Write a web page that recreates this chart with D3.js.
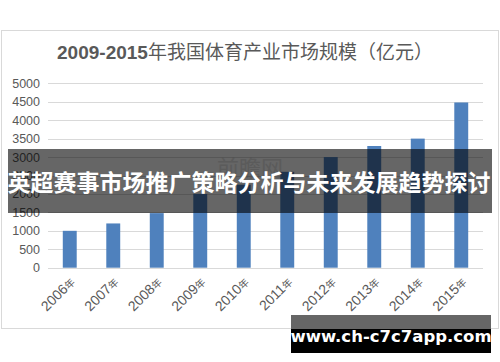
<!DOCTYPE html>
<html>
<head>
<meta charset="utf-8">
<script src="https://cdn.jsdelivr.net/npm/d3@7"></script>
<style>
  body { margin: 0; background: #fff; }
  svg { display: block; }
  .grid line { stroke: #d9d9d9; }
  .ylab { font: 12.5px "Liberation Sans", Arial, sans-serif; fill: #595959; }
  .xlab { font-family: "Liberation Sans", Arial, "Noto Sans CJK SC", sans-serif; fill: #595959; }
</style>
</head>
<body>
<div id="chart"></div>
<script>
// data
const years = ["2006", "2007", "2008", "2009", "2010", "2011", "2012", "2013", "2014", "2015"];
const sizes = [1000, 1200, 1480, 2000, 2250, 2600, 3000, 3300, 3500, 4480];
const yTicks = [0, 500, 1000, 1500, 2000, 2500, 3000, 3500, 4000, 4500, 5000];

const width = 500, height = 362;

const svg = d3.select("#chart").append("svg")
  .attr("width", width)
  .attr("height", height);

// chart frame
svg.append("rect")
  .attr("x", 1.5).attr("y", 30.5)
  .attr("width", 497).attr("height", 298)
  .attr("fill", "#fff")
  .attr("stroke", "#d9d9d9");

// title
let title = svg.append("text")
  .attr("x", 245).attr("y", 59)
  .attr("text-anchor", "middle")
  .attr("fill", "#595959")
  .style("font-size", "19px")
  .style("font-family", "'Liberation Sans', Arial, 'Noto Sans CJK SC', sans-serif");
title.append("tspan").attr("font-weight", "bold").text("2009-2015");
title.append("tspan").text("年我国体育产业市场规模（亿元）");

// scales
let x = d3.scaleBand()
  .domain(years)
  .range([48, 483])
  .paddingInner(0.68)
  .paddingOuter(0.34);

let y = d3.scaleLinear()
  .domain([0, 5000])
  .range([267.7, 83.3]);

// gridlines
svg.append("g")
  .attr("class", "grid")
  .selectAll("line")
  .data(yTicks)
  .join("line")
  .attr("x1", 48).attr("x2", 483)
  .attr("y1", d => Math.round(y(d)) + 0.5)
  .attr("y2", d => Math.round(y(d)) + 0.5);

// y labels
svg.append("g")
  .selectAll("text")
  .data(yTicks)
  .join("text")
  .attr("class", "ylab")
  .attr("x", 40)
  .attr("y", d => y(d))
  .attr("dy", "0.36em")
  .attr("text-anchor", "end")
  .text(d => d);

// bars
svg.append("g")
  .selectAll("rect")
  .data(sizes)
  .join("rect")
  .attr("x", (d, i) => x(years[i]))
  .attr("y", d => y(d))
  .attr("width", x.bandwidth())
  .attr("height", d => y(0) - y(d))
  .attr("fill", "#4f81bd");

// x labels, rotated
let xl = svg.append("g")
  .selectAll("text")
  .data(years)
  .join("text")
  .attr("class", "xlab")
  .attr("text-anchor", "end")
  .attr("transform", d => "translate(" + (x(d) + x.bandwidth() / 2 + 6) + ",283) rotate(-45)");
xl.append("tspan").style("font-size", "14px").text(d => d);
xl.append("tspan").style("font-size", "10px").text("年");

// faint source watermark
svg.append("text")
  .attr("x", 250).attr("y", 176)
  .attr("text-anchor", "middle")
  .attr("fill", "#b0b0b0")
  .attr("opacity", 0.35)
  .style("font-size", "22px")
  .style("font-family", "'Noto Sans CJK SC', sans-serif")
  .text("前瞻网");

// dark banner
svg.append("rect")
  .attr("x", 8).attr("y", 149)
  .attr("width", 484).attr("height", 64)
  .attr("fill", "rgba(0,0,0,0.6)");

svg.append("text")
  .attr("x", 249).attr("y", 191)
  .attr("text-anchor", "middle")
  .attr("fill", "#fff")
  .attr("font-weight", "bold")
  .style("font-size", "23px")
  .style("font-family", "'Noto Sans CJK SC', sans-serif")
  .text("英超赛事市场推广策略分析与未来发展趋势探讨");

// site label bottom right
svg.append("rect")
  .attr("x", 291).attr("y", 315)
  .attr("width", 200).attr("height", 14)
  .attr("fill", "#666");
svg.append("rect")
  .attr("x", 291).attr("y", 329)
  .attr("width", 200).attr("height", 24)
  .attr("fill", "#000");
svg.append("text")
  .attr("x", 391).attr("y", 342)
  .attr("text-anchor", "middle")
  .attr("fill", "#fff")
  .attr("font-weight", "bold")
  .style("font-size", "16.5px")
  .style("font-family", "'DejaVu Sans', sans-serif")
  .text("www.ch-c7c7app.com");
</script>
</body>
</html>
